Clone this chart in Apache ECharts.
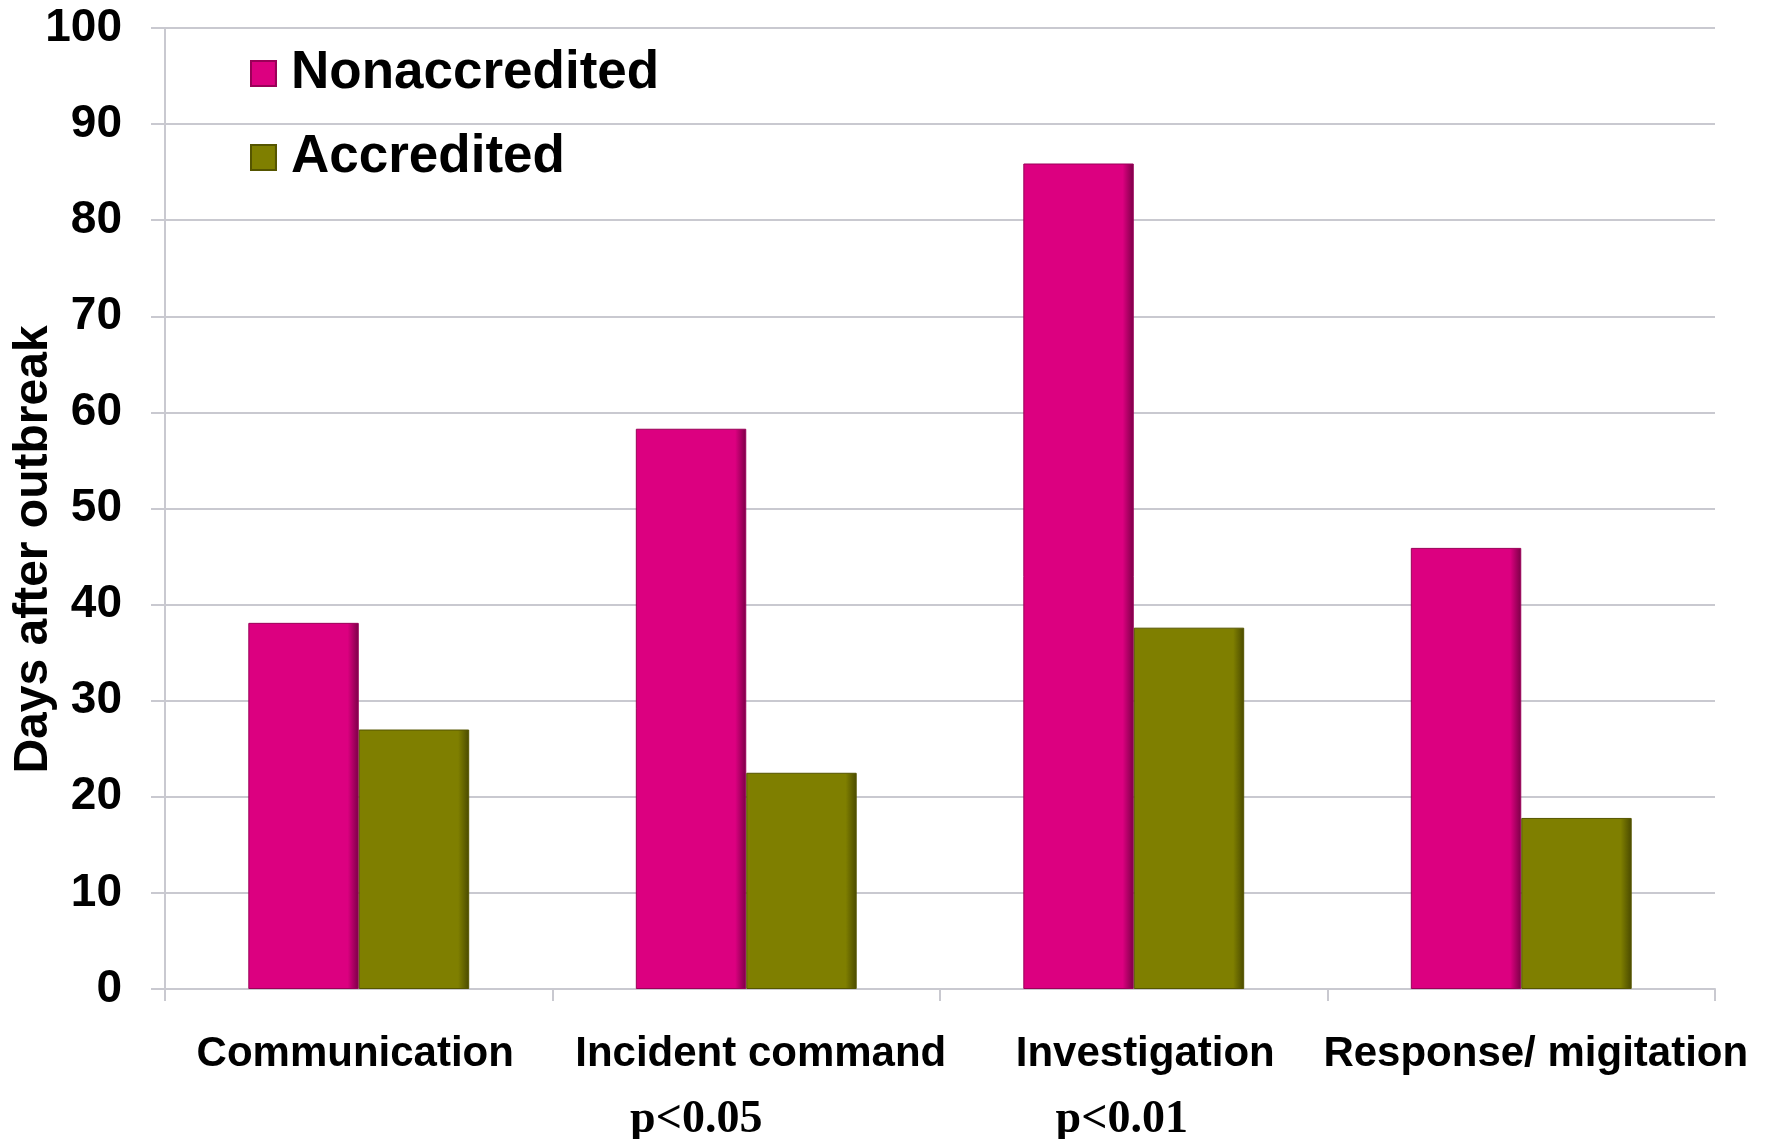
<!DOCTYPE html>
<html>
<head>
<meta charset="utf-8">
<script src="https://cdn.jsdelivr.net/npm/echarts@6/dist/echarts.min.js"></script>
<style>html,body{margin:0;padding:0;background:#fff;}#c{width:1769px;height:1139px;}</style>
</head>
<body>
<div id="c"></div>
<script>
const categories = ['Communication', 'Incident command', 'Investigation', 'Response/ migitation'];
const pValues = ['', 'p<0.05', 'p<0.01', ''];
const nonaccredited = [38.1, 58.3, 85.9, 45.9];
const accredited = [27.0, 22.5, 37.6, 17.8];
const seriesNames = ['Nonaccredited', 'Accredited'];

const chart = echarts.init(document.getElementById('c'));
const FONT = '"Liberation Sans", Arial, sans-serif';
const SERIF = '"Liberation Serif", "Times New Roman", serif';
const gridColor = '#c9c9d0';

function grad(light, dark) {
  return new echarts.graphic.LinearGradient(0, 0, 1, 0, [
    {offset: 0, color: light},
    {offset: 0.9, color: light},
    {offset: 1, color: dark}
  ]);
}

const aStyle = {fontFamily: FONT, fontWeight: 'bold', fontSize: 42, color: '#000', lineHeight: 60};
const pStyle = {fontFamily: SERIF, fontWeight: 'bold', fontSize: 46, color: '#000', lineHeight: 72};

chart.setOption({
  backgroundColor: '#fff',
  animation: false,
  grid: {left: 165, right: 54, top: 28, bottom: 150, containLabel: false, outerBoundsMode: 'none'},
  legend: {
    orient: 'vertical',
    left: 245,
    top: 42,
    itemWidth: 25,
    itemHeight: 25,
    itemGap: 31,
    icon: 'rect',
    textStyle: {fontFamily: FONT, fontWeight: 'bold', fontSize: 53, color: '#000', padding: [0, 0, 0, 10]},
    data: seriesNames
  },
  xAxis: {
    type: 'category',
    data: categories,
    axisLine: {show: true, lineStyle: {color: gridColor, width: 2}},
    axisTick: {show: true, length: 12, interval: 0, lineStyle: {color: gridColor, width: 2}},
    axisLabel: {
      interval: 0,
      margin: 35,
      formatter: function (v, i) {
        return '{a' + i + '|' + v + '}\n{p' + i + '|' + (pValues[i] || ' ') + '}';
      },
      rich: {
        a0: Object.assign({}, aStyle, {padding: [0, 7, 0, 0]}),
        a1: Object.assign({}, aStyle, {padding: [0, 0, 0, 29]}),
        a2: Object.assign({}, aStyle, {padding: [0, 0, 0, 23]}),
        a3: Object.assign({}, aStyle, {padding: [0, 0, 0, 29]}),
        p0: pStyle,
        p1: Object.assign({}, pStyle, {padding: [0, 100, 0, 0]}),
        p2: Object.assign({}, pStyle, {padding: [0, 24, 0, 0]}),
        p3: pStyle
      }
    },
    splitLine: {show: false}
  },
  yAxis: {
    type: 'value',
    min: 0,
    max: 100,
    interval: 10,
    name: 'Days after outbreak',
    nameLocation: 'middle',
    nameRotate: 90,
    nameGap: 107,
    nameMoveOverlap: false,
    nameTextStyle: {fontFamily: FONT, fontWeight: 'bold', fontSize: 48, color: '#000', padding: [0, 82, 0, 0]},
    axisLine: {show: true, lineStyle: {color: gridColor, width: 2}},
    axisTick: {show: true, length: 14, lineStyle: {color: gridColor, width: 2}},
    axisLabel: {fontFamily: FONT, fontWeight: 'bold', fontSize: 46, color: '#000', margin: 43},
    splitLine: {show: true, lineStyle: {color: gridColor, width: 2}}
  },
  series: [
    {
      name: seriesNames[0],
      type: 'bar',
      data: nonaccredited,
      barGap: '0%',
      barCategoryGap: '43%',
      itemStyle: {color: grad('#dc0080', '#7a0046'), borderColor: '#9a0058', borderWidth: 1}
    },
    {
      name: seriesNames[1],
      type: 'bar',
      data: accredited,
      barGap: '0%',
      barCategoryGap: '43%',
      itemStyle: {color: grad('#7f7f00', '#4a4a00'), borderColor: '#555500', borderWidth: 1}
    }
  ]
});
</script>
</body>
</html>
